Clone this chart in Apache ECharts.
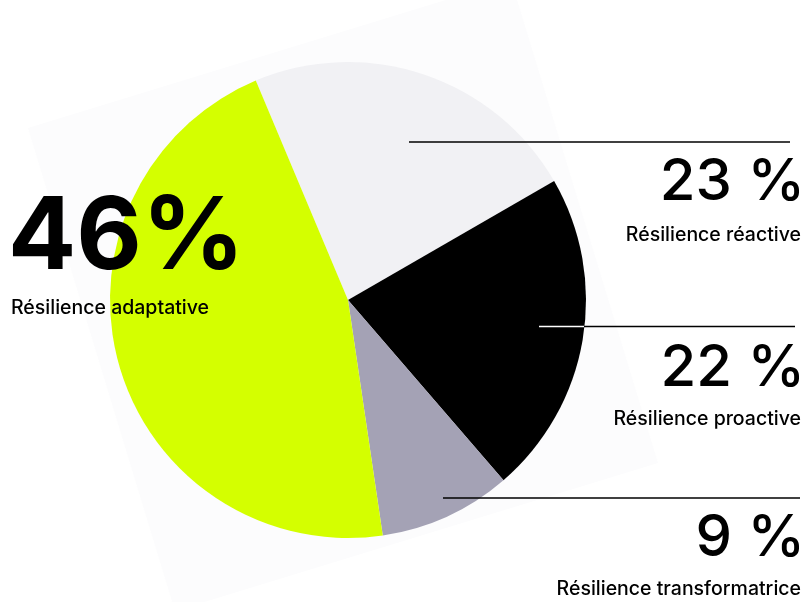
<!DOCTYPE html>
<html>
<head>
<meta charset="utf-8">
<style>
  html, body { margin: 0; padding: 0; background: #ffffff; }
  #chart { width: 804px; height: 602px; }
</style>
<script src="https://cdn.jsdelivr.net/npm/echarts@6/dist/echarts.min.js"></script>
</head>
<body>
<div id="chart"></div>
<script>
// Répartition des types de résilience
const categories = ['Résilience réactive', 'Résilience proactive', 'Résilience transformatrice', 'Résilience adaptative'];
const values = [23, 22, 9, 46];
const sliceColors = ['#f1f1f4', '#000000', '#a4a2b5', '#d4ff00'];
const pctSuffix = [' %', ' %', ' %', '%'];

const FONT = 'Inter, "Noto Sans", sans-serif';

const chart = echarts.init(document.getElementById('chart'), null, { renderer: 'canvas' });

function label(text, x, y, size, weight, align) {
  return {
    type: 'text', x: x, y: y, z: 10, silent: true,
    style: {
      text: text, fill: '#000', font: weight + ' ' + size + 'px ' + FONT,
      textAlign: align, textVerticalAlign: 'middle'
    }
  };
}

function rule(x1, x2, y, color) {
  return {
    type: 'line', z: 10, silent: true,
    shape: { x1: x1, y1: y, x2: x2, y2: y },
    style: { stroke: color, lineWidth: 1.5 }
  };
}

const graphics = [
  // pale tilted card behind the pie
  {
    type: 'polygon', z: -1, silent: true,
    shape: { points: [[28, 128], [511, -20], [658, 463], [175, 611]] },
    style: { fill: '#fcfcfd' }
  },
  rule(409, 790, 142, '#000'),
  rule(539, 584, 326.5, '#ffffff'),
  rule(584, 795, 326.5, '#000'),
  rule(443, 800, 498, '#000'),
  // adaptative (left)
  label(values[3] + pctSuffix[3], 8, 239, 101, 700, 'left'),
  label(categories[3], 11, 308.5, 19.5, 500, 'left'),
  // right column
  label(values[0] + pctSuffix[0], 805, 183, 58, 500, 'right'),
  label(categories[0], 801, 235.5, 19.5, 500, 'right'),
  label(values[1] + pctSuffix[1], 805, 368.5, 58, 500, 'right'),
  label(categories[1], 801, 419, 19.5, 500, 'right'),
  label(values[2] + pctSuffix[2], 805, 539, 58, 500, 'right'),
  label(categories[2], 801, 589, 19.5, 500, 'right')
];

chart.setOption({
  animation: false,
  backgroundColor: '#ffffff',
  graphic: graphics,
  series: [{
    type: 'pie',
    center: [348, 300],
    radius: 238,
    startAngle: 112.8,
    clockwise: true,
    silent: true,
    label: { show: false },
    labelLine: { show: false },
    emphasis: { disabled: true },
    itemStyle: { borderWidth: 0 },
    data: categories.map((name, i) => ({
      name: name, value: values[i], itemStyle: { color: sliceColors[i] }
    }))
  }]
});
</script>
</body>
</html>
